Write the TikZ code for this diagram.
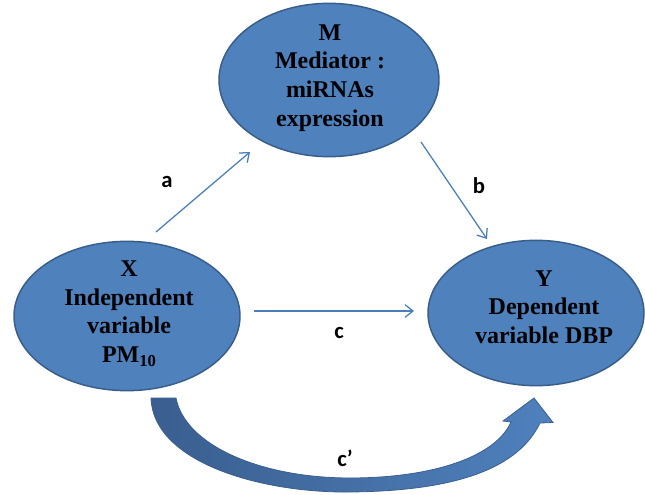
\documentclass[tikz,border=0pt]{standalone}
\usepackage{fontspec}
\setmainfont{Liberation Serif}
\newfontfamily\labfont{Carlito}
\usetikzlibrary{shapes.geometric,arrows.meta}
\definecolor{ellfill}{RGB}{79,129,189}
\definecolor{ellline}{RGB}{56,93,138}
\definecolor{thinblue}{RGB}{74,126,187}
\definecolor{darkarrow}{RGB}{58,94,143}
\tikzset{
  ellnode/.style={ellipse, fill=ellfill, draw=ellline, line width=1.1pt, inner sep=0pt},
  txtnode/.style={align=center, font=\fontsize{18}{21.5}\selectfont\bfseries, text=black},
  labnode/.style={font=\labfont\fontsize{17}{20}\selectfont\bfseries, text=black},
  thinarrow/.style={draw=thinblue, line width=0.95pt, -{Straight Barb[length=6pt,width=9.5pt,line width=0.95pt]}}
}
\begin{document}
\begin{tikzpicture}[x=0.75pt,y=-0.75pt]
\useasboundingbox (0,0) rectangle (645,495);
% ellipses
\node[ellnode, minimum width=165pt, minimum height=115pt] (M) at (329,80) {};
\node[ellnode, minimum width=169.5pt, minimum height=112pt] (X) at (127,316) {};
\node[ellnode, minimum width=162pt, minimum height=109pt] (Y) at (536,313) {};
% texts
\node[txtnode] (Mt) at (330,78) {M\\Mediator :\\miRNAs\\expression};
\node[txtnode] (Xt) at (129,314) {X\\Independent\\variable\\PM\raisebox{-0.4ex}{\fontsize{12.5}{12.5}\selectfont 10}};
\node[txtnode] (Yt) at (544,307) {Y\\Dependent\\variable DBP};
% connector end points
\coordinate (a1) at (156,232);
\coordinate (a2) at (250,152);
\coordinate (b1) at (421,142);
\coordinate (b2) at (487,239);
\coordinate (c1) at (254,311);
\coordinate (c2) at (414,311);
\draw[thinarrow] (a1) -- (a2);
\draw[thinarrow] (b1) -- (b2);
\draw[thinarrow] (c1) -- (c2);
% labels
\node[labnode] (la) at (167,182) {a};
\node[labnode] (lb) at (479,186) {b};
\node[labnode] (lc) at (339,333) {c};
\node[labnode] (lcp) at (345,458) {c’};
% curved block arrow
\draw[draw=darkarrow, line width=0.6pt, left color=darkarrow, right color=ellfill, shading angle=90]
  (151,398) .. controls (153,462) and (260,493) .. (350,492)
  .. controls (440,491) and (515,475) .. (540,423)
  -- (553,422.5) -- (534,398) -- (503,421) -- (511,422)
  .. controls (495,458) and (430,478) .. (350,478)
  .. controls (260,478) and (185,445) .. (176,398) -- cycle;
\end{tikzpicture}
\end{document}
